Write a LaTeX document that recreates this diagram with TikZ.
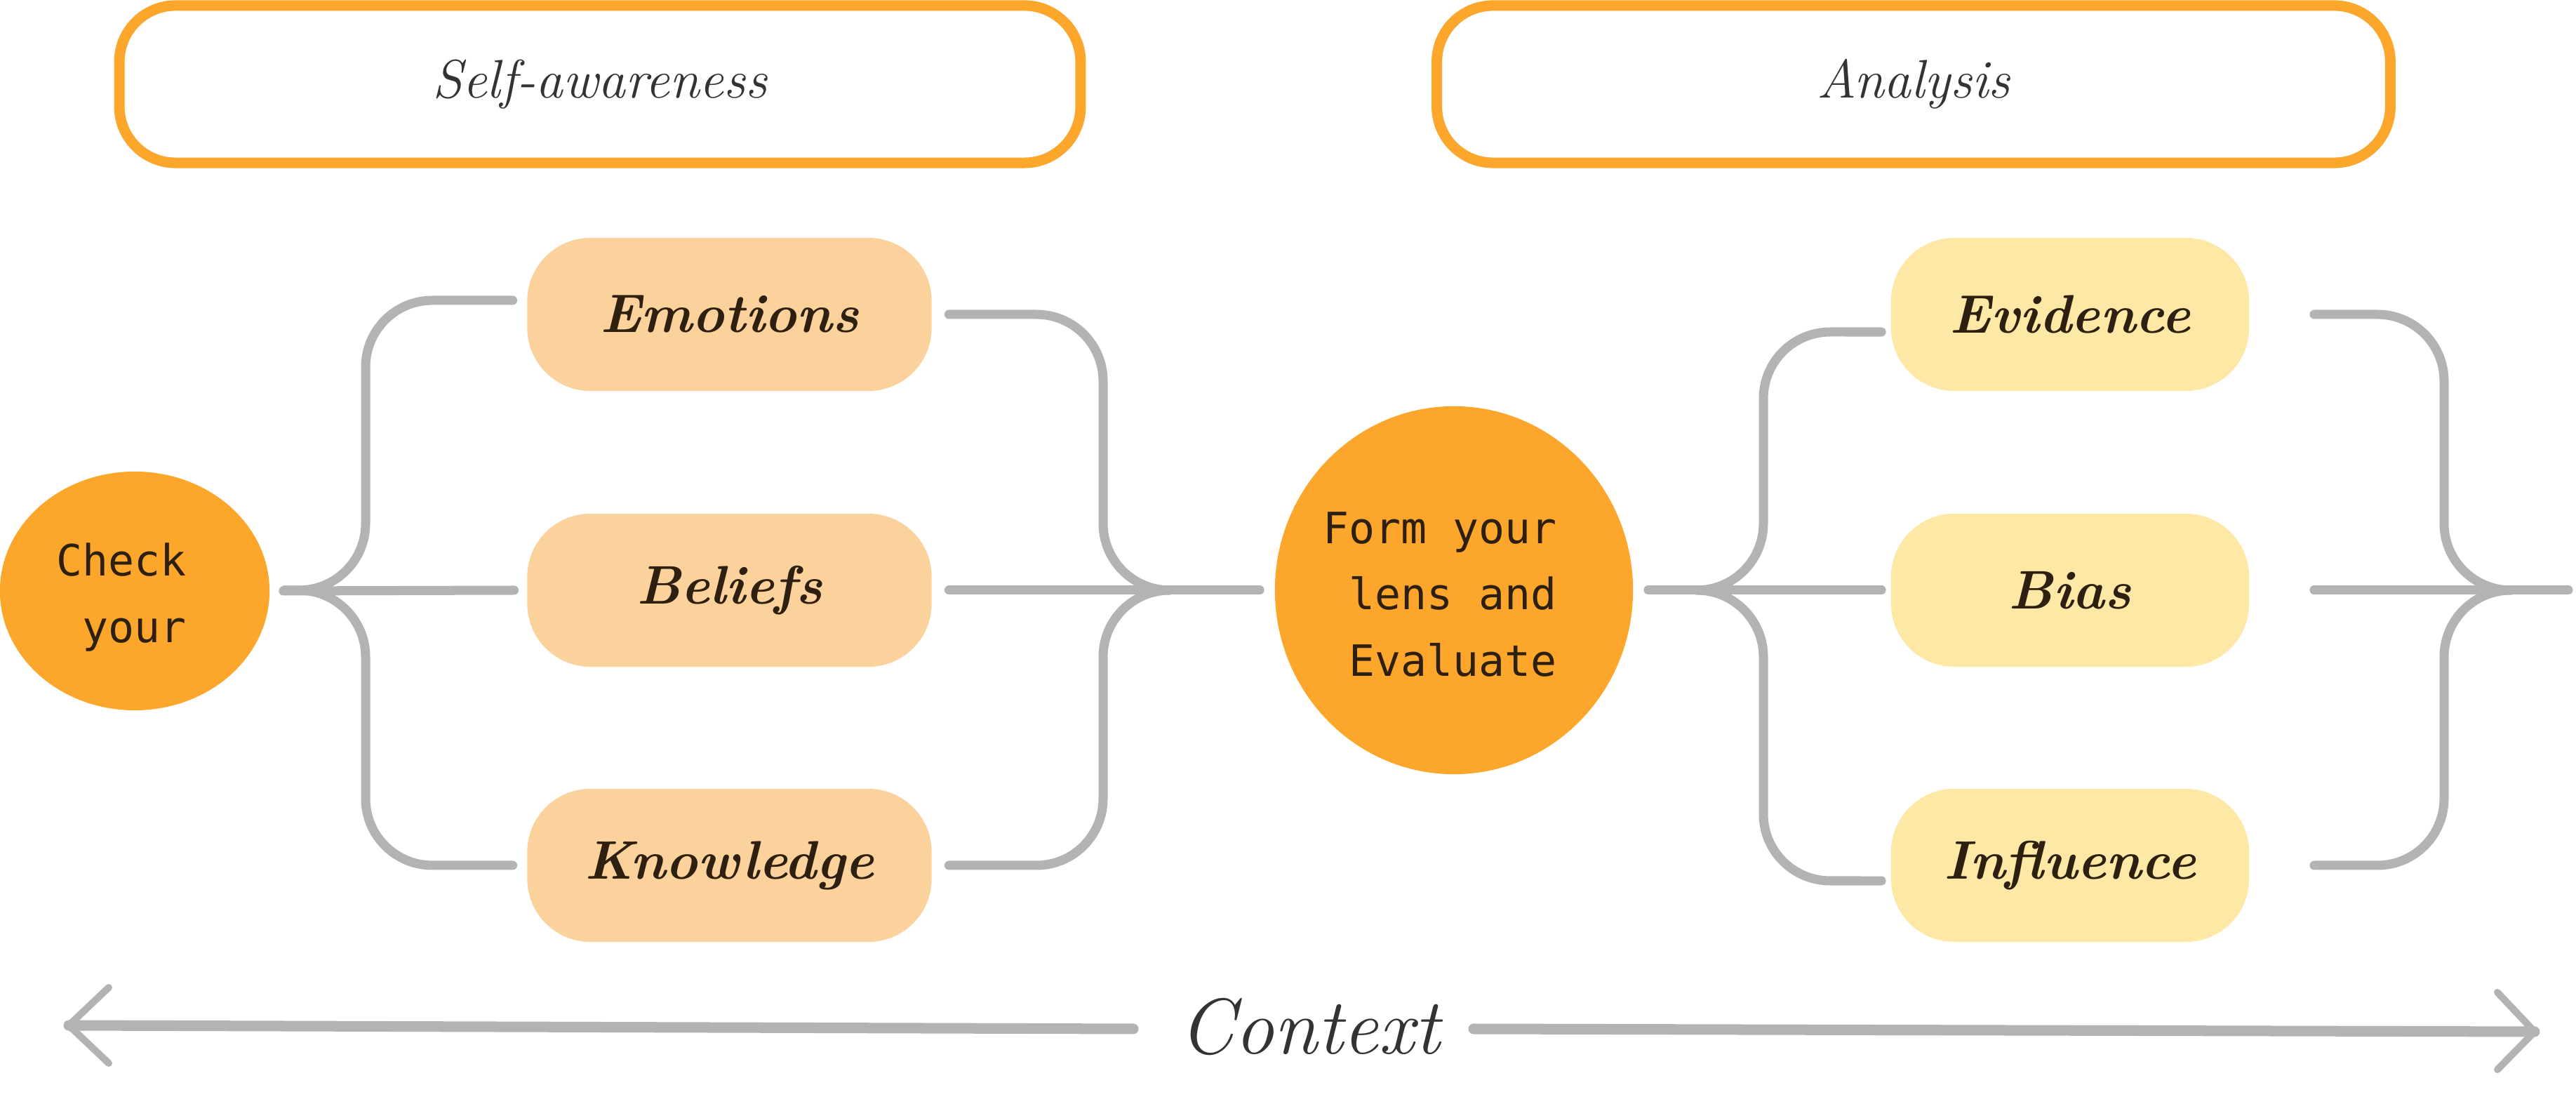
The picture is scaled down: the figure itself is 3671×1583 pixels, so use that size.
\documentclass[tikz,border=0pt]{standalone}
\usepackage{fontspec}
\newfontfamily\monof{DejaVu Sans Mono}
\usetikzlibrary{shapes.geometric}
\definecolor{orng}{HTML}{FCA62C}
\definecolor{peach}{HTML}{FBD19C}
\definecolor{lyell}{HTML}{FEE8A6}
\definecolor{lgray}{HTML}{B3B3B3}
\definecolor{ink}{HTML}{2E2010}
\definecolor{inkg}{HTML}{333333}
\begin{document}
\begin{tikzpicture}[x=0.01cm,y=-0.01cm,
 titlebox/.style={draw=orng, line width=0.15cm, fill=white, rounded corners=0.8cm, minimum height=2.24cm, inner sep=0pt, text=inkg, font=\fontsize{22}{26}\selectfont\itshape},
 lbox/.style={fill=#1, rounded corners=0.9cm, minimum width=5.76cm, minimum height=2.18cm, inner sep=0pt, text=ink, font=\fontsize{22}{26}\selectfont\bfseries\itshape},
 hub/.style={ellipse, fill=orng, inner sep=0pt},
 hubtext/.style={inner sep=0pt, text=ink, align=right, font=\fontsize{17.5}{27}\selectfont\monof},
 conn/.style={draw=lgray, line width=0.13cm, line cap=round, line join=round, rounded corners=0.95cm},
 ctxline/.style={draw=lgray, line width=0.15cm, line cap=round},
 chev/.style={draw=lgray, line width=0.1cm, line cap=round, line join=round},
]
\useasboundingbox (0,0) rectangle (3671,1583);

% title boxes
\node[titlebox, minimum width=13.69cm] (sa) at (855,120) {Self-awareness};
\node[titlebox, minimum width=13.58cm] (an) at (2727,120) {Analysis};

% hubs
\node[hub, minimum width=3.84cm, minimum height=3.40cm] (check) at (192,842) {};
\node[hubtext] (checkt) at (173,851) {Check\\your};
\node[hub, minimum width=5.10cm, minimum height=5.24cm] (form) at (2072,841) {};
\node[hubtext] (formt) at (2052,847) {Form your\\lens and\\Evaluate};

% boxes
\node[lbox=peach] (emo) at (1039.5,448) {Emotions};
\node[lbox=peach] (bel) at (1039.5,841) {Beliefs};
\node[lbox=peach] (kno) at (1039.5,1233) {Knowledge};
\node[lbox=lyell, minimum width=5.10cm] (evi) at (2950,448) {Evidence};
\node[lbox=lyell, minimum width=5.10cm] (bia) at (2950,841) {Bias};
\node[lbox=lyell, minimum width=5.10cm] (inf) at (2950,1233) {Influence};

% junctions
\coordinate (jL) at (405,841);
\coordinate (jR) at (1667,841);
\coordinate (jA) at (2420,841);
\coordinate (jB) at (3578,841);
\coordinate (endB) at (3660,841);

% left group
\draw[conn] ([xshift=0.19cm]check.east) -- ([xshift=-0.18cm]bel.west);
\draw[conn] (jL) -| (521,428) -- ([xshift=-0.2cm,yshift=0.2cm]emo.west);
\draw[conn] (jL) -| (521,1233) -- ([xshift=-0.2cm]kno.west);
\draw[conn] ([xshift=0.24cm]emo.east) -| (1572,841) -- (jR);
\draw[conn] ([xshift=0.24cm]kno.east) -| (1572,841) -- (jR);
\draw[conn] ([xshift=0.24cm]bel.east) -- ([xshift=-0.21cm]form.west);

% right group
\draw[conn] ([xshift=0.21cm]form.east) -- ([xshift=-0.13cm]bia.west);
\draw[conn] (jA) -| (2513,473) -- ([xshift=-0.13cm,yshift=-0.25cm]evi.west);
\draw[conn] (jA) -| (2513,1255) -- ([xshift=-0.13cm,yshift=-0.22cm]inf.west);
\draw[conn] ([xshift=0.92cm]evi.east) -| (3483,841) -- (jB);
\draw[conn] ([xshift=0.92cm]inf.east) -| (3483,841) -- (jB);
\draw[conn] ([xshift=0.92cm]bia.east) -- (endB);

% context
\node[font=\fontsize{32}{36}\selectfont\itshape, text=inkg] (ctx) at (1866,1463) {Context};
\coordinate (ctxL) at (98,1461);
\coordinate (ctxR) at (3612,1470);
\coordinate (ctxA) at (1615,1466);
\coordinate (ctxB) at (2100,1466);
\draw[ctxline] (ctxA) -- (ctxL);
\draw[ctxline] (ctxB) -- (ctxR);
\draw[chev] (155,1407) -- (ctxL) -- (155,1515);
\draw[chev] (3559,1414) -- (ctxR) -- (3559,1524);
\end{tikzpicture}
\end{document}
